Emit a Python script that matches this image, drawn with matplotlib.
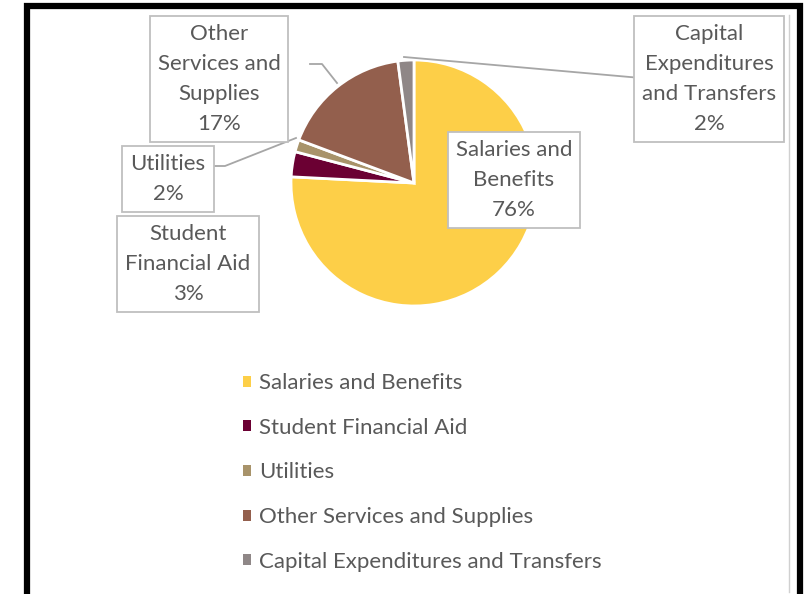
import matplotlib.pyplot as plt
from matplotlib.patches import Rectangle, Patch

categories = ["Salaries and Benefits", "Student Financial Aid", "Utilities",
              "Other Services and Supplies", "Capital Expenditures and Transfers"]
values = [75.8, 3.3, 1.6, 17.2, 2.1]
box_labels = ["Salaries and\nBenefits", "Student\nFinancial Aid", "Utilities",
              "Other\nServices and\nSupplies", "Capital\nExpenditures\nand Transfers"]
colors = ["#FDCF48", "#6B0033", "#A8936A", "#935F4D", "#8F8787"]

W, H = 808, 594
plt.rcParams['font.family'] = ['Lato', 'DejaVu Sans']


def fx(px):
    return px / W


def fy(py):
    return 1 - py / H


fig = plt.figure(figsize=(W / 100, H / 100), dpi=100)

# pie axes: centre (414, 183), radius 123 px
cx, cy, r = 414, 183, 123
ax = fig.add_axes([fx(cx - r), fy(cy + r), 2 * r / W, 2 * r / H])
wedges, _ = ax.pie(values, colors=colors, startangle=90, counterclock=False,
                   wedgeprops=dict(edgecolor="white", linewidth=2))
ax.set_xlim(-1, 1)
ax.set_ylim(-1, 1)
ax.set_aspect("equal")
ax.axis("off")

# data labels with boxes
label_pos = [(514, 180), (188, 264), (168, 179), (219, 79), (709, 79)]
text_color = "#595959"
for lab, v, (px, py) in zip(box_labels, values, label_pos):
    fig.text(fx(px), fy(py), f"{lab}\n{round(v)}%", ha="center", va="center",
             fontsize=16, color=text_color, linespacing=1.62,
             bbox=dict(boxstyle="square,pad=0.36", facecolor="white",
                       edgecolor="#BFBFBF", linewidth=1.3))

# leader lines
line_kw = dict(color="#A6A6A6", linewidth=1.3, transform=fig.transFigure)
fig.add_artist(plt.Line2D([fx(310), fx(322), fx(337)], [fy(64), fy(64), fy(83)], **line_kw))
fig.add_artist(plt.Line2D([fx(214), fx(225), fx(296)], [fy(166), fy(166), fy(138)], **line_kw))
fig.add_artist(plt.Line2D([fx(404), fx(641)], [fy(57), fy(78)], **line_kw))

# legend
handles = [Patch(facecolor=c, edgecolor="none") for c in colors]
fig.legend(handles, categories, loc="upper left", bbox_to_anchor=(fx(232), fy(362)),
           frameon=False, fontsize=16, labelcolor=text_color,
           handlelength=0.37, handleheight=0.37, handletextpad=0.33,
           labelspacing=1.11, borderpad=0)

# outer frame
fig.add_artist(Rectangle((fx(27), fy(610)), fx(800) - fx(27), fy(6) - fy(610),
                         transform=fig.transFigure, fill=False, edgecolor="black",
                         linewidth=4.5, clip_on=False))
fig.add_artist(plt.Line2D([fx(789), fx(789)], [fy(15), fy(592)], color="#D0D0D0",
                          linewidth=1, transform=fig.transFigure))

fig.savefig("out.png", dpi=100)
